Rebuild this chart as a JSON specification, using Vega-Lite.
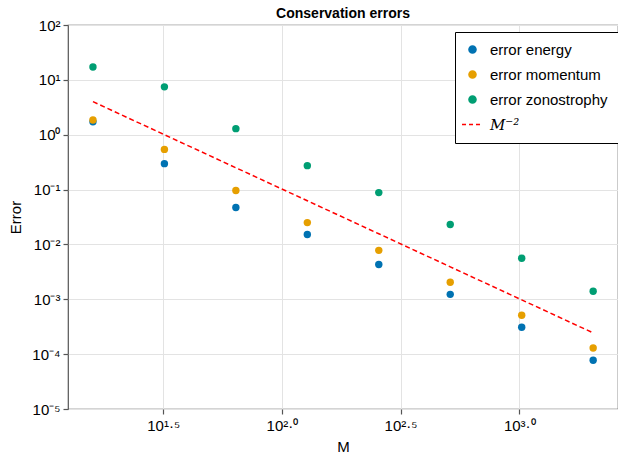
{
  "$schema": "https://vega.github.io/schema/vega-lite/v6.json",
  "width": 550,
  "height": 384,
  "autosize": {"type": "none"},
  "padding": {"left": 68, "top": 25, "right": 0, "bottom": 46},
  "title": {"text": "Conservation errors", "fontSize": 14, "font": "Liberation Sans", "fontWeight": "bold", "offset": -3, "frame": "group", "color": "black"},
  "datasets": {
    "errors": [
      {"M": 16, "series": "error energy", "error": 1.72},
      {"M": 32, "series": "error energy", "error": 0.297},
      {"M": 64, "series": "error energy", "error": 0.047},
      {"M": 128, "series": "error energy", "error": 0.0152},
      {"M": 256, "series": "error energy", "error": 0.0043},
      {"M": 512, "series": "error energy", "error": 0.00123},
      {"M": 1024, "series": "error energy", "error": 0.00031},
      {"M": 2048, "series": "error energy", "error": 0.0000776},
      {"M": 16, "series": "error momentum", "error": 1.85},
      {"M": 32, "series": "error momentum", "error": 0.54},
      {"M": 64, "series": "error momentum", "error": 0.096},
      {"M": 128, "series": "error momentum", "error": 0.025},
      {"M": 256, "series": "error momentum", "error": 0.0078},
      {"M": 512, "series": "error momentum", "error": 0.00204},
      {"M": 1024, "series": "error momentum", "error": 0.00051},
      {"M": 2048, "series": "error momentum", "error": 0.000129},
      {"M": 16, "series": "error zonostrophy", "error": 17.2},
      {"M": 32, "series": "error zonostrophy", "error": 7.46},
      {"M": 64, "series": "error zonostrophy", "error": 1.29},
      {"M": 128, "series": "error zonostrophy", "error": 0.273},
      {"M": 256, "series": "error zonostrophy", "error": 0.088},
      {"M": 512, "series": "error zonostrophy", "error": 0.0231},
      {"M": 1024, "series": "error zonostrophy", "error": 0.0056},
      {"M": 2048, "series": "error zonostrophy", "error": 0.0014}
    ],
    "ref": [
      {"M": 16, "series": "M⁻²", "error": 4},
      {"M": 32, "series": "M⁻²", "error": 1},
      {"M": 64, "series": "M⁻²", "error": 0.25},
      {"M": 128, "series": "M⁻²", "error": 0.0625},
      {"M": 256, "series": "M⁻²", "error": 0.015625},
      {"M": 512, "series": "M⁻²", "error": 0.00390625},
      {"M": 1024, "series": "M⁻²", "error": 0.0009765625},
      {"M": 2048, "series": "M⁻²", "error": 0.000244140625}
    ]
  },
  "config": {
    "font": "Liberation Sans",
    "view": {"stroke": "#555555", "strokeWidth": 1.2},
    "axis": {
      "domain": false,
      "tickColor": "#555555",
      "tickSize": 5,
      "tickWidth": 1.2,
      "labelFontSize": 15,
      "labelColor": "black",
      "labelFont": "Liberation Sans",
      "titleFont": "Liberation Sans",
      "titleFontSize": 15,
      "titleFontWeight": "normal",
      "titleColor": "black",
      "gridColor": "#e3e3e3",
      "gridWidth": 1
    }
  },
  "encoding": {
    "x": {
      "field": "M", "type": "quantitative",
      "scale": {"type": "log", "domain": [12.56, 2606], "nice": false, "zero": false},
      "axis": {
        "title": "M",
        "values": [31.6228, 100, 316.228, 1000],
        "labelExpr": "['10¹·⁵','10²·⁰','10²·⁵','10³·⁰'][round(log(datum.value)/LN10*2)-3]",
        "labelPadding": 4,
        "titlePadding": 6
      }
    },
    "y": {
      "field": "error", "type": "quantitative",
      "scale": {"type": "log", "domain": [0.00001, 100], "nice": false, "zero": false},
      "axis": {
        "title": "Error",
        "values": [0.00001, 0.0001, 0.001, 0.01, 0.1, 1, 10, 100],
        "labelExpr": "['10⁻⁵','10⁻⁴','10⁻³','10⁻²','10⁻¹','10⁰','10¹','10²'][round(log(datum.value)/LN10)+5]",
        "labelPadding": 3,
        "titlePadding": 8
      }
    },
    "color": {
      "field": "series", "type": "nominal",
      "scale": {
        "domain": ["error energy", "error momentum", "error zonostrophy", "M⁻²"],
        "range": ["#0072B2", "#E69F00", "#009E73", "red"]
      },
      "legend": {
        "orient": "none",
        "legendX": 387,
        "legendY": 7,
        "title": null,
        "strokeColor": "black",
        "fillColor": "white",
        "padding": 10,
        "labelFontSize": 15,
        "labelFont": "Liberation Sans",
        "labelColor": "black",
        "rowPadding": 9,
        "labelOffset": 10,
        "symbolType": "circle",
        "encode": {
          "symbols": {
            "update": {
              "shape": {"signal": "datum.value === 'M⁻²' ? 'stroke' : 'circle'"},
              "stroke": {"signal": "datum.value === 'M⁻²' ? 'red' : 'transparent'"},
              "strokeDash": {"signal": "datum.value === 'M⁻²' ? [4,3] : []"},
              "strokeWidth": {"value": 1.5},
              "size": {"signal": "datum.value === 'M⁻²' ? 440 : 50"}
            }
          },
          "labels": {
            "update": {
              "fontStyle": {"signal": "datum.value === 'M⁻²' ? 'italic' : 'normal'"},
              "font": {"signal": "datum.value === 'M⁻²' ? 'DejaVu Serif' : 'Liberation Sans'"}
            }
          }
        }
      }
    }
  },
  "layer": [
    {
      "data": {"name": "ref"},
      "mark": {"type": "line", "strokeDash": [5, 3], "strokeWidth": 1.5}
    },
    {
      "data": {"name": "errors"},
      "mark": {"type": "point", "filled": true, "size": 55, "opacity": 1, "shape": "circle"}
    }
  ]
}
